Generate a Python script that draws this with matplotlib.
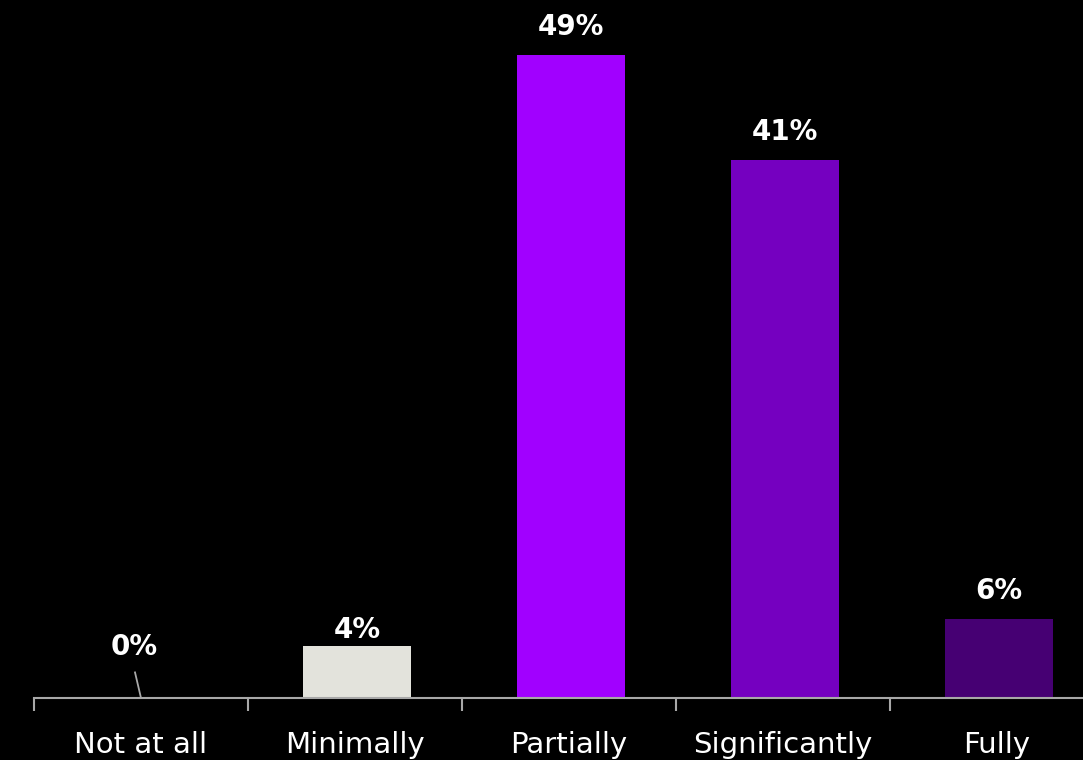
import numpy as np
import matplotlib.pyplot as plt

plt.rcParams["font.family"] = ["DejaVu Sans"]

categories = ["Not at all", "Minimally", "Partially", "Significantly", "Fully"]
values = [0, 4, 49, 41, 6]
colors = ["#E3E3DC", "#E3E3DC", "#A100FF", "#7500C0", "#460073"]

axis_grey = "#A8A8A8"

fig = plt.figure(figsize=(10.83, 7.60), dpi=100, facecolor="black")
ax = fig.add_axes([34 / 1083, 62 / 760, 1070 / 1083, 698 / 760])
ax.set_facecolor("black")

x = np.arange(len(categories))
ax.bar(x + 0.01, values, width=0.505, color=colors)

ax.set_xlim(-0.5, len(categories) - 0.5)
ax.set_ylim(0, 698 / 13.12)

for side in ["top", "right", "left"]:
    ax.spines[side].set_visible(False)
ax.spines["bottom"].set_color(axis_grey)
ax.spines["bottom"].set_linewidth(1.5)
ax.set_yticks([])

# labels at the centres, tick marks at the category boundaries
ax.set_xticks(x)
ax.set_xticklabels(categories, fontsize=21, color="white")
ax.tick_params(axis="x", which="major", length=0, pad=24)
ax.set_xticks(np.arange(-0.5, len(categories)), minor=True)
ax.tick_params(axis="x", which="minor", length=9, width=1.5, color=axis_grey,
               direction="out")

for xi, v in zip(x, values):
    if v == 0:
        ax.plot([xi - 0.028, xi], [1.95, 0], color=axis_grey, linewidth=1.3,
                clip_on=False)
        ax.text(xi - 0.03, 2.85, f"{v}%", ha="center", va="bottom",
                fontsize=20, fontweight="bold", color="white")
    else:
        # the small 4% label sits close to its bar
        gap = 1 if v < 5 else 10
        ax.annotate(f"{v}%", (xi + 0.01, v), xytext=(0, gap),
                    textcoords="offset points", ha="center", va="bottom",
                    fontsize=20, fontweight="bold", color="white")

fig.savefig("out.png", facecolor="black")
